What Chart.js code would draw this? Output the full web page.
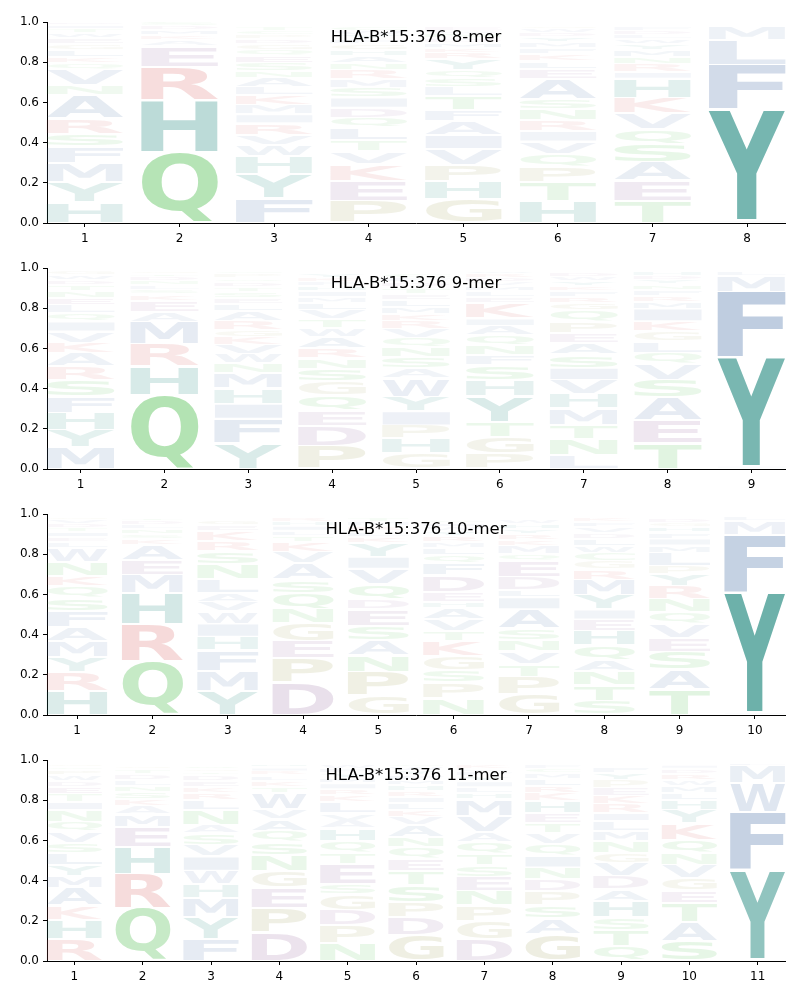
<!DOCTYPE html>
<html lang="en">
<head>
  <meta charset="UTF-8">
  <title>HLA-B*15:376 binding motifs</title>
  <script src="https://cdn.jsdelivr.net/npm/chart.js"></script>
  <style>
    body { margin: 0; background: #fff; }
    .panel { width: 800px; height: 246px; }
    canvas { display: block; }
  </style>
</head>
<body>
  <div class="panel"><canvas id="c0" width="800" height="246"></canvas></div>
  <div class="panel"><canvas id="c1" width="800" height="246"></canvas></div>
  <div class="panel"><canvas id="c2" width="800" height="246"></canvas></div>
  <div class="panel"><canvas id="c3" width="800" height="246"></canvas></div>
  <script>
    // letter + frequency (%) per position, listed bottom to top
    const titles = ["HLA-B*15:376 8-mer", "HLA-B*15:376 9-mer", "HLA-B*15:376 10-mer", "HLA-B*15:376 11-mer"];
    const yTicks = [0, 0.2, 0.4, 0.6, 0.8, 1.0];

    const mer8 = [
      "H10.5 Y10 M9.5 F8 S6.5 R7.5 A11.5 N5 V8 Q3 K3 L3.5 G3 E3 W2.5 T2 I2 D1.5",
      "Q35.5 H25.7 R16.6 E10.3 A3 K2.5 M2.5 D2 S2",
      "F12.5 Y12 H8.7 W5.7 V5 R5.7 I4.5 M4.5 K5 L4 A4.7 N3.3 S4 E3.5 Q3 G3 D2.5 P2 C2 T2",
      "P10.8 E10.3 K8.3 V6.2 T5.5 L6.3 Q5 D5 I5 S5 M4.2 R4.5 N3.3 A3.5 H3 G3 F2.5 Y2 W2 C2",
      "G12 H8.7 P8.3 V7.8 I7 A6.7 F5.5 T7 L4.5 S4.5 Q4 Y5.5 R3.3 K2.5 M2.5 D2 N2 W1.5 E2",
      "H10.8 T9.5 P7.8 Q6.2 V6.2 I5.3 R5.5 N5.5 S5 A10 E5 L3.8 K3.3 F3 M3 Y2.5 D2 W2 G1.5",
      "T10.8 E10.3 A9.3 S9 Q7.3 V7.8 K7.8 H9.5 I3.3 R4 N3.3 M3.5 Y3 W2.5 L2 D2 F2",
      "I1.5 Y55 F22.2 L12.5 M6.5"
    ];
    const mer9 = [
      "M10.8 Y8.6 H8.6 F8.1 S8.3 R6.6 A6.6 K5.3 V5.5 I5 Q4 L4 E3.5 N3.5 T3 D2.5 W2.5 G2",
      "Q37 H14 R11.3 M11 A5 E5.5 K3 S2.5 L2 N2 D2 T1.5 G1.5",
      "Y13 F12 I7.5 H7.6 M7.5 N5 W4.6 V4.6 K4 G3.3 R4.5 A4.8 L3.5 E3 S3 T2.5 D2.5 Q2 P2 C1.5",
      "P11.5 D10 E7.7 Q7.3 G7 S6.5 N5 R5 A5.8 W4.4 T4.4 V4.5 L3.5 M3 I3 H2.5 F2 K2 Y2",
      "G7.8 H7.3 P6.6 I7 Y7.3 W9 A5 S5.8 N5 Q4.5 V4.5 R4 K3.5 M3.5 L3.5 E3 T3 D2.5 F2 C2",
      "P7.8 G8.3 T7.5 Y12.8 H7.8 S7.3 F5 N5 Q5 A4.6 I3.8 K7.5 E3 L3 M2.5 V2 D2 R2 W1.5",
      "L7 N8 T7.1 M8 H7.1 V7.1 I6.1 S6.6 A5.8 E5 P5.5 Q5.8 G3.5 R3 F3 K2.5 Y2.5 W2 D2",
      "T12.8 E11.6 A11.3 S8.8 V7.8 Q5.6 L5.6 G5 K5 I6.3 M3.5 R3 F3 N2.5 Y2 D2 H2",
      "I1.6 Y54 F32.5 M8 L2.5"
    ];
    const mer10 = [
      "H12.1 R9.1 Y7.5 M8 A7.1 F7.8 S6.6 Q5.8 K5 N7 W7 L3 E2.5 I2.5 T2 D2 V2 G1.5",
      "Q27 R18.2 H15.4 M9.1 E7.5 A7.5 K3 S2.5 N2.5 L2 D2 T1.5",
      "Y12.1 M10 F10 H6.8 I6.6 W6.3 V4.6 A4.5 L6.6 N7.5 S6.6 R5 K5 E3 G2.5",
      "D16.3 P12 E8.6 G8.8 N7.1 Q8 S6.6 A8 V5.8 K5 T3 L2.5 I2.5 H2 R2",
      "G9.6 P12 N8.3 A7.5 S7.1 E8.3 D5 Q7.5 V7.5 I6 Y7 K3 L2.5 R2.5 M2 T2",
      "N8.3 P7.8 S6.3 G7.1 K7.3 T5 V5.8 A5.8 H3 E5 D8.3 F5.8 Q4 L3.5 M3 R3 Y2.5 W2 I2 C1.5",
      "G10.5 P8.6 T6.3 V6.3 N5.5 S5.8 A9.6 I6 L3.6 D6.6 E8 Q3.3 M4 K3 R3 Y2.5 H2.5 W2",
      "S7 T7.8 N7 A5.8 Q7 H7.1 E5.8 I5 Y7.1 M7.8 R5 G4 C4 W3.5 L3.5 D3 V3 F2.5 K2",
      "T13 A9.6 S8.8 E7 V7 Q5.8 N6.6 R6.6 Y5.8 P4 L6.6 M3.5 I3.5 F3 H2.5 G2 D2",
      "I1.5 Y59 F29 M6.8 L2.5"
    ];
    const mer11 = [
      "R11.1 H9.5 K7 A8.6 M6.3 Y5.5 L5.8 S5 V5.5 Q5 N5.8 I4 T4 E3.5 D3 W3 P2.5 C1.5 G1.5",
      "Q26.5 R17 H13.3 E10 M6.3 A4 K3.5 S3.5 N3 L3 D3 T2.5 G1.5 P1",
      "F11.1 Y10.8 M9.6 H6.6 W6.8 I7.1 V5.8 S5.8 A4 N7.5 L5 R3.5 K3 E3 D3 T1.5 G1.5 Q2",
      "D14.1 P12.4 E10 G8.3 N7.8 S6.6 Q5.5 A5.8 V5 W8.3 T3 K3 L2.5 R2 I2 H1.5",
      "N9.1 P8.6 D7.8 G7.8 S5 E10 T5.5 Q5.8 H6.3 A4 V3.5 L5.5 K3.5 R3 I3 M2.5 Y2.5 F2 W2",
      "G13 D9 P7.5 S8.3 T7 E6 Q5.8 N5 A6 V4 K3.5 L3.5 I3 R3 H3 M2.5 F2.5 Y2 W2 C1.5",
      "D10.8 G9.1 P7.8 N7.1 E7.1 S5.8 T5.8 Q5.8 A5 V7.8 M8.3 H3 L3 I3 Y2.5 F2 W1.5 K2",
      "G13.3 A7.8 S6.6 P7 D6 N5.8 I5.8 Q6 V5.3 T5 E5 H5.8 K4 R3.5 L3.5 M3 C2 F2",
      "Q7.5 T8 S6.3 H8 A5.8 D6.6 V6.6 G5 N5.8 M5 L5 I4 R4.5 K4 E4 P4 Y3.5 F3",
      "S10 A9.5 T9.5 E6.1 G6.1 V6.6 N5.8 Q6.6 K8.3 Y6.6 H5 L3.5 M3.5 W3 R3 D2.5 I2",
      "I1.2 Y44 F28.8 W14.7 M8.5 L1.8"
    ];

    const panels = [mer8, mer9, mer10, mer11];

    const groupColor = {
      teal: [40, 140, 130], green: [80, 190, 80], blue: [90, 125, 175],
      red: [215, 95, 95], purple: [150, 105, 160], olive: [160, 160, 90]
    };
    const letterGroup = {
      Y: "teal", H: "teal",
      Q: "green", N: "green", S: "green", T: "green", C: "green",
      A: "blue", V: "blue", L: "blue", I: "blue", M: "blue", F: "blue", W: "blue",
      R: "red", K: "red", D: "purple", E: "purple", P: "olive", G: "olive"
    };

    function letterColor(ch, h) {
      const c = groupColor[letterGroup[ch]];
      const a = Math.min(1, 0.03 + 1.1 * h);
      return `rgba(${c[0]}, ${c[1]}, ${c[2]}, ${a.toFixed(3)})`;
    }

    function parsePos(s) {
      return s.split(" ").map((t) => [t[0], parseFloat(t.slice(1)) / 100]);
    }

    function drawGlyph(ctx, ch, x, y, w, h, color) {
      if (w <= 0 || h <= 0.2) return;
      ctx.save();
      ctx.font = 'bold 100px "DejaVu Sans"';
      ctx.textAlign = "left";
      ctx.textBaseline = "alphabetic";
      const m = ctx.measureText(ch);
      const gl = m.actualBoundingBoxLeft, gr = m.actualBoundingBoxRight;
      const ga = m.actualBoundingBoxAscent, gd = m.actualBoundingBoxDescent;
      ctx.translate(x, y);
      ctx.scale(w / (gl + gr), h / (ga + gd));
      ctx.fillStyle = color;
      ctx.fillText(ch, gl, ga);
      ctx.restore();
    }

    const logoLetters = {
      id: "logoLetters",
      afterDatasetsDraw(chart) {
        const ctx = chart.ctx;
        chart.data.datasets.forEach((ds, k) => {
          chart.getDatasetMeta(k).data.forEach((bar, i) => {
            const ch = ds.letters[i];
            if (!ch) return;
            const p = bar.getProps(["x", "y", "base", "width"], true);
            const top = Math.min(p.y, p.base), bottom = Math.max(p.y, p.base);
            drawGlyph(ctx, ch, p.x - p.width / 2, top + 1, p.width, bottom - top - 2,
              letterColor(ch, ds.data[i].y));
          });
        });
      }
    };

    const insideTitle = {
      id: "insideTitle",
      afterDraw(chart, args, opts) {
        const { ctx, chartArea } = chart;
        ctx.save();
        ctx.font = '16.5px "DejaVu Sans"';
        ctx.fillStyle = "#000";
        ctx.textAlign = "center";
        ctx.textBaseline = "alphabetic";
        ctx.fillText(opts.text, (chartArea.left + chartArea.right) / 2, chartArea.top + 20);
        ctx.restore();
      }
    };

    Chart.defaults.font.family = '"DejaVu Sans"';
    Chart.defaults.font.size = 12;
    Chart.defaults.color = "#000";

    panels.forEach((rows, n) => {
      const positions = rows.map(parsePos);
      const layers = Math.max(...positions.map((p) => p.length));
      const datasets = [];
      for (let k = 0; k < layers; k++) {
        datasets.push({
          data: positions.map((p, i) => ({ x: i + 1, y: p[k] ? p[k][1] : 0 })),
          letters: positions.map((p) => (p[k] ? p[k][0] : null)),
          backgroundColor: "rgba(0,0,0,0)",
          borderWidth: 0,
          categoryPercentage: 1,
          barPercentage: 0.81
        });
      }
      const count = positions.length;

      new Chart(document.getElementById("c" + n), {
        type: "bar",
        data: { datasets },
        options: {
          responsive: false,
          animation: false,
          devicePixelRatio: 1,
          layout: { padding: { left: 0, right: 15, top: 22, bottom: 0 } },
          plugins: {
            legend: { display: false },
            tooltip: { enabled: false },
            insideTitle: { text: titles[n] }
          },
          scales: {
            x: {
              type: "linear",
              stacked: true,
              offset: false,
              min: 0.6,
              max: count + 0.4,
              afterBuildTicks: (s) => { s.ticks = positions.map((p, i) => ({ value: i + 1 })); },
              afterFit: (s) => { s.height = 23; },
              ticks: { padding: 5, callback: (v) => String(v) },
              grid: { offset: false, drawOnChartArea: false, drawTicks: true, tickLength: 4, color: "#000" },
              border: { display: true, color: "#000", width: 1 }
            },
            y: {
              stacked: true,
              min: 0,
              max: 1,
              afterBuildTicks: (s) => { s.ticks = yTicks.map((v) => ({ value: v })); },
              afterFit: (s) => { s.width = 47; },
              ticks: { padding: 4, callback: (v) => v.toFixed(1) },
              grid: { drawOnChartArea: false, drawTicks: true, tickLength: 4, color: "#000" },
              border: { display: true, color: "#000", width: 1 }
            }
          }
        },
        plugins: [logoLetters, insideTitle]
      });
    });
  </script>
</body>
</html>
